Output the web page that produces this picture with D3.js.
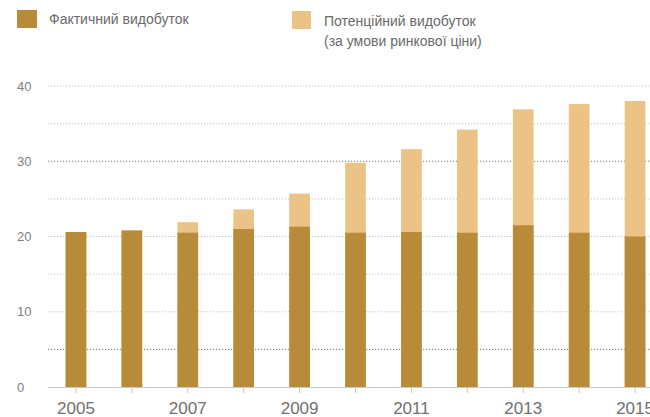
<!DOCTYPE html>
<meta charset="utf-8">
<style>
  body { margin: 0; background: #fff; }
  svg { display: block; font-family: "Liberation Sans", Arial, sans-serif; }
</style>
<svg width="650" height="417"></svg>
<script src="https://d3js.org/d3.v7.min.js"></script>
<script>

// values
var years     = ["2005","2006","2007","2008","2009","2010","2011","2012","2013","2014","2015"];
var actual    = [20.6, 20.8, 20.5, 21.0, 21.3, 20.5, 20.6, 20.5, 21.5, 20.5, 20.0];
var potential = [20.6, 20.8, 21.9, 23.6, 25.7, 29.8, 31.6, 34.2, 36.9, 37.6, 38.0];
var gridTicks = [5, 10, 15, 20, 25, 30, 35, 40];
var yLabels   = [0, 10, 20, 30, 40];
var xLabels   = ["2005","2007","2009","2011","2013","2015"];

var darkColor = "#b88b3b",
    lightColor = "#ecc386";

var svg = d3.select("svg");

var x = d3.scaleBand()
    .domain(years)
    .range([48, 663])
    .paddingInner(0.63)
    .paddingOuter(0.315);

var y = d3.scaleLinear()
    .domain([0, 40])
    .range([387, 86]);

// grid lines (dotted)
svg.append("g")
  .selectAll("line")
  .data(gridTicks)
  .enter().append("line")
    .attr("x1", 48)
    .attr("x2", 650)
    .attr("y1", function(d) { return y(d); })
    .attr("y2", function(d) { return y(d); })
    .attr("stroke", function(d) { return (d === 30 || d === 5) ? "#777" : "#c4c4c4"; })
    .attr("stroke-width", 1)
    .attr("stroke-dasharray", "1.2,1.8");

// y labels
svg.append("g")
  .selectAll("text")
  .data(yLabels)
  .enter().append("text")
    .attr("x", 17)
    .attr("y", function(d) { return y(d); })
    .attr("dy", "0.35em")
    .attr("font-size", 13)
    .attr("fill", "#808080")
    .text(function(d) { return d; });

// potential (light) bars behind
svg.append("g")
  .selectAll("rect")
  .data(years)
  .enter().append("rect")
    .attr("x", function(d) { return x(d); })
    .attr("width", x.bandwidth())
    .attr("y", function(d, i) { return y(potential[i]); })
    .attr("height", function(d, i) { return y(0) - y(potential[i]); })
    .attr("fill", lightColor);

// actual (dark) bars
svg.append("g")
  .selectAll("rect")
  .data(years)
  .enter().append("rect")
    .attr("x", function(d) { return x(d); })
    .attr("width", x.bandwidth())
    .attr("y", function(d, i) { return y(actual[i]); })
    .attr("height", function(d, i) { return y(0) - y(actual[i]); })
    .attr("fill", darkColor);

// x axis
var xAxis = svg.append("g");

xAxis.append("line")
    .attr("x1", 48)
    .attr("x2", 650)
    .attr("y1", y(0) + 0.5)
    .attr("y2", y(0) + 0.5)
    .attr("stroke", "#c8c8c8");

xAxis.selectAll(".tick")
  .data(years)
  .enter().append("line")
    .attr("class", "tick")
    .attr("x1", function(d) { return x(d) + x.bandwidth() / 2; })
    .attr("x2", function(d) { return x(d) + x.bandwidth() / 2; })
    .attr("y1", y(0) + 1)
    .attr("y2", y(0) + 6)
    .attr("stroke", "#c8c8c8");

xAxis.selectAll("text")
  .data(xLabels)
  .enter().append("text")
    .attr("x", function(d) { return x(d) + x.bandwidth() / 2; })
    .attr("y", 414)
    .attr("text-anchor", "middle")
    .attr("font-size", 17)
    .attr("fill", "#707070")
    .text(function(d) { return d; });

// legend
var legend = svg.append("g");

legend.append("rect")
    .attr("x", 17).attr("y", 10)
    .attr("width", 20).attr("height", 18)
    .attr("fill", darkColor);

legend.append("text")
    .attr("x", 49).attr("y", 19)
    .attr("dy", "0.35em")
    .attr("font-size", 14)
    .attr("fill", "#6a6a6a")
    .text("Фактичний видобуток");

legend.append("rect")
    .attr("x", 292).attr("y", 11)
    .attr("width", 19).attr("height", 18)
    .attr("fill", lightColor);

legend.append("text")
    .attr("x", 324).attr("y", 21.5)
    .attr("dy", "0.35em")
    .attr("font-size", 14)
    .attr("fill", "#6a6a6a")
    .text("Потенційний видобуток");

legend.append("text")
    .attr("x", 324).attr("y", 41.5)
    .attr("dy", "0.35em")
    .attr("font-size", 14)
    .attr("fill", "#6a6a6a")
    .text("(за умови ринкової ціни)");

</script>
